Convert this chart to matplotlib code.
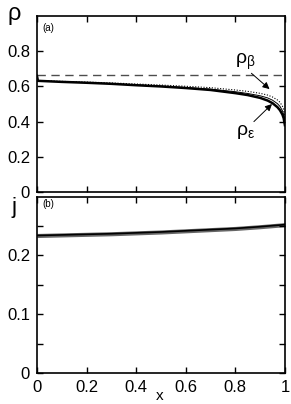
import numpy as np
import matplotlib
matplotlib.use("Agg")
import matplotlib.pyplot as plt

plt.rcParams['font.family'] = ['Liberation Sans', 'DejaVu Sans']
plt.rcParams['mathtext.default'] = 'regular'

# данные
x_rho = [0, 0.004, 0.1, 0.2, 0.3, 0.4, 0.5, 0.6, 0.7, 0.8, 0.85, 0.9, 0.93, 0.95, 0.97, 0.98, 0.99, 0.995, 1.0]
rho_sim = [0.66, 0.632, 0.626, 0.621, 0.615, 0.607, 0.600, 0.591, 0.580, 0.562, 0.551, 0.535, 0.520, 0.505, 0.482, 0.465, 0.44, 0.42, 0.38]
rho_thin = [0.632, 0.632, 0.627, 0.622, 0.616, 0.609, 0.602, 0.594, 0.585, 0.570, 0.560, 0.547, 0.535, 0.522, 0.502, 0.487, 0.462, 0.44, 0.39]
rho_dot = [0.634, 0.634, 0.629, 0.625, 0.620, 0.614, 0.608, 0.601, 0.593, 0.580, 0.572, 0.561, 0.551, 0.540, 0.523, 0.510, 0.488, 0.468, 0.41]
rho_dash = 2 / 3

x_j = [0, 0.1, 0.2, 0.3, 0.4, 0.5, 0.6, 0.7, 0.8, 0.9, 1.0]
j_sim = [0.234, 0.235, 0.236, 0.237, 0.2385, 0.240, 0.242, 0.244, 0.246, 0.249, 0.2525]
j_noise = 0.0035

fig = plt.figure(figsize=(2.91, 4.04), dpi=100)
ax1 = fig.add_axes([0.127, 0.525, 0.852, 0.435])
ax2 = fig.add_axes([0.127, 0.077, 0.852, 0.436])

# верхняя панель
ax1.axhline(rho_dash, color='0.3', lw=1.0, dashes=(6, 4))
ax1.plot(x_rho, rho_dot, color='black', lw=0.8, ls=(0, (1, 1.5)))
ax1.plot(x_rho, rho_thin, color='black', lw=0.7)
ax1.plot(x_rho, rho_sim, color='black', lw=1.8)
ax1.set_xlim(0, 1)
ax1.set_ylim(0, 1)
ax1.set_yticks([0, 0.2, 0.4, 0.6, 0.8])
ax1.set_yticklabels(['0', '0.2', '0.4', '0.6', '0.8'])
ax1.text(0.02, 0.96, '(a)', fontsize=7, va='top', ha='left', transform=ax1.transAxes)

ax1.text(0.84, 0.74, r'$ρ_{β}$', fontsize=14, ha='center', va='center')
ax1.annotate('', xy=(0.938, 0.585), xytext=(0.865, 0.675),
             arrowprops=dict(arrowstyle='-|>', color='black', lw=0.7, mutation_scale=10,
                             shrinkA=0, shrinkB=0))
ax1.text(0.84, 0.34, r'$ρ_{ε}$', fontsize=14, ha='center', va='center')
ax1.annotate('', xy=(0.948, 0.50), xytext=(0.875, 0.40),
             arrowprops=dict(arrowstyle='-|>', color='black', lw=0.7, mutation_scale=10,
                             shrinkA=0, shrinkB=0))

# нижняя панель
j_arr = np.array(j_sim)
ax2.fill_between(x_j, j_arr - j_noise, j_arr + j_noise, color='0.4', lw=0)
ax2.plot(x_j, j_sim, color='black', lw=1.2)
ax2.set_xlim(0, 1)
ax2.set_ylim(0, 0.3)
ax2.set_yticks([0, 0.05, 0.1, 0.15, 0.2, 0.25])
ax2.set_yticklabels(['0', '', '0.1', '', '0.2', ''])
ax2.text(0.02, 0.985, '(b)', fontsize=7, va='top', ha='left', transform=ax2.transAxes)

for ax in (ax1, ax2):
    ax.set_xticks([0, 0.2, 0.4, 0.6, 0.8, 1.0])
    ax.tick_params(direction='in', top=True, right=True, length=4, width=1,
                   labelsize=12, pad=5)
    for s in ax.spines.values():
        s.set_linewidth(1.2)
ax1.set_xticklabels([])
ax2.set_xticklabels(['0', '0.2', '0.4', '0.6', '0.8', '1'])

fig.text(14 / 291, 1 - 14 / 404, 'ρ', fontsize=17, ha='center', va='center')
fig.text(14 / 291, 1 - 207 / 404, 'j', fontsize=16, ha='center', va='center')
fig.text(160 / 291, 0.003, 'x', fontsize=11, ha='center', va='bottom')

fig.savefig('out.png', dpi=100)
